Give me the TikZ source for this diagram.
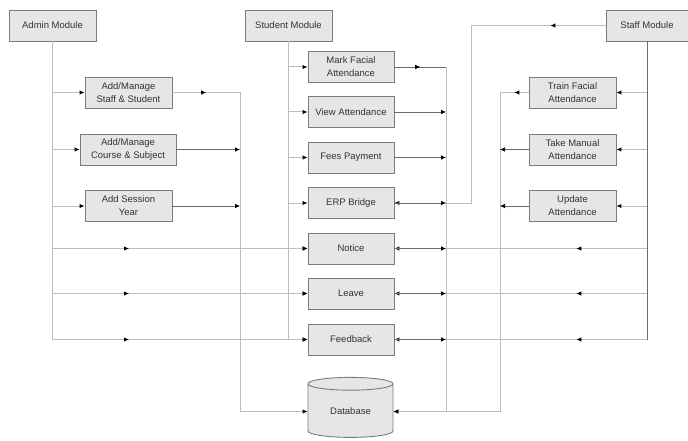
\documentclass[tikz,border=0pt]{standalone}
\usepackage{fontspec}
\setmainfont{Liberation Sans}
\usetikzlibrary{arrows.meta,shapes.geometric,decorations.markings}
\definecolor{boxfill}{HTML}{E6E6E6}
\definecolor{boxline}{HTML}{737B8C}
\definecolor{lightline}{HTML}{BDBDBD}
\definecolor{darkline}{HTML}{6A6A6A}
\definecolor{textgray}{HTML}{333333}
\begin{document}
\begin{tikzpicture}[
        x=1pt, y=-1pt,
        modbox/.style = {rectangle, draw=boxline, fill=boxfill, line width=0.9pt, minimum width=87pt, minimum height=31pt,
                inner sep=1pt, align=center, text=textgray, font=\fontsize{9.5}{13}\selectfont},
        conn/.style = {draw=lightline, line width=1pt},
        darkconn/.style = {draw=darkline, line width=0.7pt},
        tip/.style = {-{Latex[length=5pt,width=4.5pt,color=black]}},
        midarr/.style = {postaction={decorate}, decoration={markings,
                mark=at position #1 with {\arrow{Latex[length=5pt,width=4.5pt,color=black]}}}}
        ]
        \useasboundingbox (0,0) rectangle (688,441);
        \node[modbox] (admin) at (52.5,25.5) {Admin Module};
        \node[modbox] (student) at (288.5,25.5) {Student Module};
        \node[modbox, minimum width=82pt] (staff) at (647,25.5) {Staff Module};

        \node[modbox] (ss) at (128.5,92.5) {Add/Manage\\Staff \& Student};
        \node[modbox, minimum width=96pt] (cs) at (128,149.5) {Add/Manage\\Course \& Subject};
        \node[modbox] (sy) at (128.5,206) {Add Session\\Year};

        \node[modbox, minimum width=86pt] (mfa) at (351,67) {Mark Facial\\Attendance};
        \node[modbox, minimum width=86pt] (va) at (351,112) {View Attendance};
        \node[modbox, minimum width=86pt] (fp) at (351,157.5) {Fees Payment};
        \node[modbox, minimum width=86pt] (erp) at (351,203) {ERP Bridge};
        \node[modbox, minimum width=86pt] (notice) at (351,248.5) {Notice};
        \node[modbox, minimum width=86pt] (leave) at (351,293.5) {Leave};
        \node[modbox, minimum width=86pt] (feedback) at (351,339.5) {Feedback};
        \node[modbox, cylinder, shape border rotate=90, aspect=0.3, minimum width=85pt, minimum height=60pt] (db) at (350.5,411.5) {Database};

        \node[modbox] (tfa) at (572.5,92.5) {Train Facial\\Attendance};
        \node[modbox] (tma) at (572.5,149.5) {Take Manual\\Attendance};
        \node[modbox] (ua) at (572.5,206) {Update\\Attendance};

        \coordinate (busL) at (240,0);
        \coordinate (busR) at (446,0);
        \coordinate (busE) at (471,0);
        \coordinate (busS) at (500,0);

        \draw[conn] (admin.south) -- (admin.south |- feedback);
        \foreach \b in {ss,cs,sy} \draw[conn,tip] (admin.south |- \b) -- (\b.west);
        \foreach \b in {notice,leave,feedback} \draw[conn,tip,midarr=0.3] (admin.south |- \b) -- (\b.west);

        \draw[conn, midarr=0.5] (ss.east) -- (ss.east -| busL);
        \draw[conn, tip] (ss.east -| busL) |- (db.west);
        \foreach \b in {cs,sy} \draw[darkconn,tip] (\b.east) -- (\b.east -| busL);

        \draw[conn] (student.south) -- (student.south |- feedback);
        \foreach \b in {mfa,va,fp,erp,notice,leave,feedback} \draw[conn,tip] (student.south |- \b) -- (\b.west);

        \draw[darkconn] (staff.south) -- (staff.south |- feedback);
        \foreach \b in {tfa,tma,ua} \draw[conn,tip] (staff.south |- \b) -- (\b.east);
        \foreach \b in {notice,leave,feedback} \draw[conn,tip,midarr=0.28] (staff.south |- \b) -- (\b.east);

        \draw[conn, midarr=0.41] (staff.west) -- (staff.west -| busE);
        \draw[conn, tip] (staff.west -| busE) |- (erp.east);

        \draw[conn, midarr=0.5] (tfa.west) -- (tfa.west -| busS);
        \draw[conn, tip] (tfa.west -| busS) |- (db.east);
        \foreach \b in {tma,ua} \draw[darkconn,tip] (\b.west) -- (\b.west -| busS);

        \draw[darkconn, midarr=0.5] (mfa.east) -- (mfa.east -| busR);
        \draw[conn, tip] (mfa.east -| busR) |- (db.east);
        \foreach \b in {va,fp,erp,notice,leave,feedback} \draw[darkconn,tip] (\b.east) -- (\b.east -| busR);
\end{tikzpicture}
\end{document}
